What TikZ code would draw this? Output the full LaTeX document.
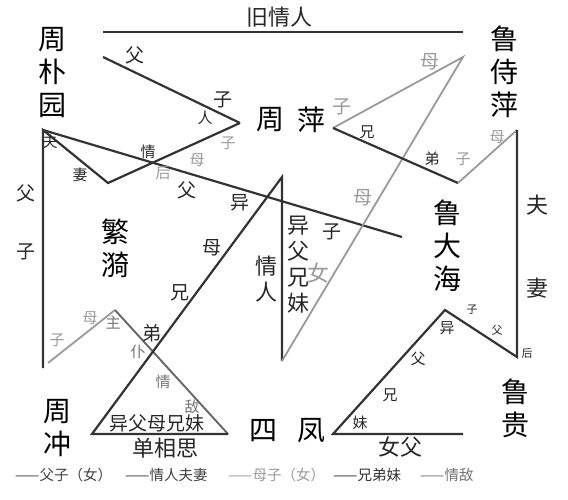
\documentclass[tikz,border=0pt]{standalone}
\usepackage{fontspec}
\setmainfont{Noto Sans CJK SC}
\usetikzlibrary{positioning}

\begin{document}
\begin{tikzpicture}[x=1pt, y=-1pt,
    kin/.style={draw=black!80, line width=2.2pt},
    rival/.style={draw=black!60, line width=1.9pt},
    faint/.style={draw=black!40, line width=1.8pt},
    person/.style={font=\fontsize{28}{33}\selectfont, inner sep=0pt, align=center},
    tagL/.style={font=\fontsize{22}{26}\selectfont, inner sep=0pt, text=black!85, align=center},
    tag/.style={font=\fontsize{19}{19}\selectfont, inner sep=0pt, text=black!85},
    tagS/.style={font=\fontsize{15}{15}\selectfont, inner sep=0pt, text=black!85},
    tagXS/.style={font=\fontsize{11}{11}\selectfont, inner sep=0pt, text=black!85},
    grey/.style={text=black!40},
    key/.style={font=\fontsize{14.5}{14.5}\selectfont, inner sep=0pt, anchor=west}]
    \useasboundingbox (0,0) rectangle (568,500);

    % corners of the relation lines
    \coordinate (oldL) at (103,32);
    \coordinate (oldR) at (463,32);
    \coordinate (pyo) at (43,130);
    \coordinate (zcEnd) at (43,368);
    \coordinate (fyV) at (108,183);
    \coordinate (zpStart) at (103,57);
    \coordinate (zpL) at (240,123);
    \coordinate (dhEnd) at (402,237);
    \coordinate (fyLow) at (115,310);
    \coordinate (zcGrey) at (48,363);
    \coordinate (triL) at (92,434);
    \coordinate (triR) at (228,434);
    \coordinate (loveTop) at (282,177);
    \coordinate (loveBot) at (282,361);
    \coordinate (lspApex) at (463,57);
    \coordinate (zpR) at (333,128);
    \coordinate (dhTop) at (458,183);
    \coordinate (lspV) at (517,130);
    \coordinate (lgV) at (517,357);
    \coordinate (dhLow) at (445,310);
    \coordinate (sfV) at (333,434);
    \coordinate (sfR) at (463,434);

    % the lines
    \draw[kin] (oldL) -- (oldR);
    \draw[kin] (zpStart) -- (zpL);
    \draw[kin] (zcEnd) -- (pyo) -- (fyV) -- (zpL);
    \draw[kin] (pyo) -- (dhEnd);
    \draw[faint] (zcGrey) -- (fyLow);
    \draw[rival] (fyLow) -- (triR);
    \draw[kin] (triR) -- (triL) -- (loveTop) -- (loveBot);
    \draw[faint] (loveBot) -- (lspApex) -- (zpR);
    \draw[kin] (zpR) -- (dhTop);
    \draw[faint] (dhTop) -- (lspV);
    \draw[kin] (lspV) -- (lgV) -- (dhLow) -- (sfV) -- (sfR);

    % people
    \node[person] (pyuan) at (52,73) {周\\朴\\园};
    \node[person] (lsping) at (504,72) {鲁\\侍\\萍};
    \node[person] (zhou) at (270,120) {周};
    \node[person] (ping) at (311,120) {萍};
    \node[person] (fanyi) at (115,248) {繁\\漪};
    \node[person] (dahai) at (447,246) {鲁\\大\\海};
    \node[person] (zchong) at (57,428) {周\\冲};
    \node[person] (si) at (263,431) {四};
    \node[person] (feng) at (311,431) {凤};
    \node[person] (lgui) at (515,408) {鲁\\贵};

    % labels
    \node[tagL] (oldLove) at (279,17) {旧情人};
    \node[tag] (zpFa) at (135,55) {父};
    \node[tag] (zpZi) at (223,100) {子};
    \node[tagS] (fyRen) at (205,118) {人};
    \node[tagS] (fyQing) at (148,152) {情};
    \node[tagS] (pyFu) at (50,142) {夫};
    \node[tagS] (fyQi) at (80,175) {妻};
    \node[tagS, grey] (fyHou) at (163,173) {后};
    \node[tagS, grey] (fyMu) at (197,160) {母};
    \node[tagS, grey] (zpZi2) at (228,143) {子};
    \node[tag] (dhFa) at (187,190) {父};
    \node[tag] (dhZi) at (332,232) {子};
    \node[tag] (zcFa) at (26,193) {父};
    \node[tag] (zcZi) at (26,252) {子};
    \node[tag] (yiA) at (240,203) {异};
    \node[tag] (muA) at (212,248) {母};
    \node[tag] (xiongA) at (180,293) {兄};
    \node[tag] (diA) at (152,333) {弟};
    \node[tagS, grey] (fyMu2) at (90,318) {母};
    \node[tagS, grey] (zcZi2) at (57,340) {子};
    \node[tagS, text=black!55] (zhu) at (113,323) {主};
    \node[tagS, text=black!55] (pu) at (138,352) {仆};
    \node[tagS, text=black!55] (qingD) at (163,382) {情};
    \node[tagS, text=black!55] (di) at (192,407) {敌};
    \node[tag] (halfSib) at (157,423) {异父母兄妹};
    \node[tagL] (crush) at (165,448) {单相思};
    \node[tagL] (lover) at (266,279) {情\\人};
    \node[tagL] (halfSibB) at (298,265) {异\\父\\兄\\妹};
    \node[tagL, grey] (sfNv) at (318,273) {女};
    \node[tag, grey] (sfMu) at (363,198) {母};
    \node[tag, grey] (zpZi3) at (342,107) {子};
    \node[tag, grey] (lspMu) at (430,62) {母};
    \node[tagS] (zpXiong) at (367,132) {兄};
    \node[tagS] (dhDi) at (432,159) {弟};
    \node[tagS, grey] (dhZi2) at (463,159) {子};
    \node[tagS, grey] (lspMu2) at (497,137) {母};
    \node[tagL] (lgFu) at (537,205) {夫};
    \node[tagL] (lspQi) at (537,288) {妻};
    \node[tagXS] (dhZi3) at (472,310) {子};
    \node[tagXS] (lgFa) at (497,330) {父};
    \node[tagXS] (lgHou) at (527,353) {后};
    \node[tagS] (yiB) at (447,328) {异};
    \node[tagS] (faB) at (418,359) {父};
    \node[tagS] (xiongB) at (390,395) {兄};
    \node[tagS] (meiB) at (360,423) {妹};
    \node[tagL] (nvFu) at (400,447) {女父};

    % legend
    \node[key, text=black!75] (keyFa) at (15,475) {——父子（女）};
    \node[key, text=black!75] (keyLove) at (125,475) {——情人夫妻};
    \node[key, text=black!40] (keyMu) at (228,475) {——母子（女）};
    \node[key, text=black!80] (keySib) at (333,475) {——兄弟妹};
    \node[key, text=black!55] (keyRival) at (420,475) {——情敌};
\end{tikzpicture}
\end{document}
